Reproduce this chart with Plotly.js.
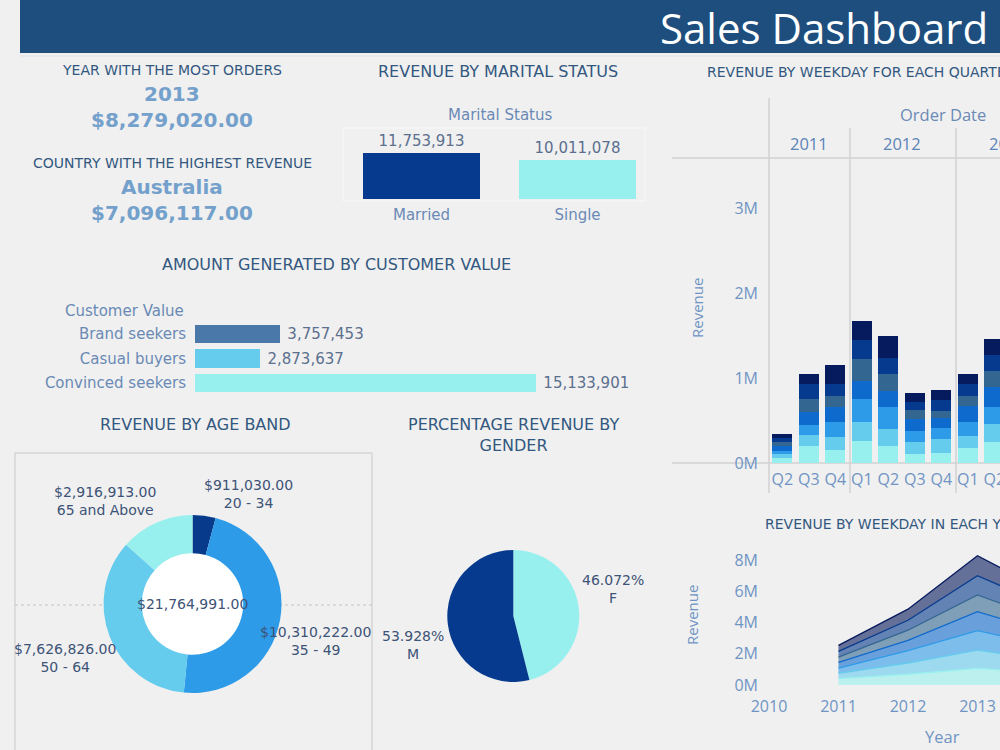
<!DOCTYPE html>
<html>
<head>
<meta charset="utf-8">
<script src="https://cdn.plot.ly/plotly-3.0.1.min.js"></script>
<style>
  html, body { margin: 0; padding: 0; background: #f0f0f0; overflow: hidden; }
  #chart { width: 1000px; height: 750px; }
</style>
</head>
<body>
<div id="chart"></div>
<script>
// ---------------- DATA ----------------
const dashboardTitle = "Sales Dashboard";
const topYear = "2013";
const topYearRevenue = 8279020;
const topCountry = "Australia";
const topCountryRevenue = 7096117;

const maritalStatus = ["Married", "Single"];
const maritalRevenue = [11753913, 10011078];

const customerValue = ["Brand seekers", "Casual buyers", "Convinced seekers"];
const customerRevenue = [3757453, 2873637, 15133901];

const ageBands = ["20 - 34", "35 - 49", "50 - 64", "65 and Above"];
const ageRevenue = [911030, 10310222, 7626826, 2916913];

const genders = ["F", "M"];
const genderShare = [46.072, 53.928];

// Quarterly revenue (millions) per weekday, stacked bottom -> top
const quarterKeys = ["2011 Q2", "2011 Q3", "2011 Q4", "2012 Q1", "2012 Q2", "2012 Q3", "2012 Q4", "2013 Q1", "2013 Q2"];
const quarterLabels = ["Q2", "Q3", "Q4", "Q1", "Q2", "Q3", "Q4", "Q1", "Q2"];
const orderYears = ["2011", "2012", "2013"];
const weekdays = ["Sunday", "Monday", "Tuesday", "Wednesday", "Thursday", "Friday", "Saturday"];
const qSunday    = [0.059, 0.196, 0.157, 0.263, 0.196, 0.110, 0.122, 0.173, 0.243];
const qMonday    = [0.047, 0.133, 0.153, 0.224, 0.204, 0.133, 0.157, 0.141, 0.220];
const qTuesday   = [0.039, 0.121, 0.176, 0.271, 0.255, 0.137, 0.137, 0.169, 0.192];
const qWednesday = [0.051, 0.153, 0.169, 0.208, 0.188, 0.137, 0.114, 0.184, 0.243];
const qThursday  = [0.051, 0.149, 0.129, 0.255, 0.208, 0.102, 0.086, 0.122, 0.188];
const qFriday    = [0.047, 0.176, 0.149, 0.224, 0.188, 0.102, 0.125, 0.141, 0.188];
const qSaturday  = [0.051, 0.121, 0.220, 0.224, 0.259, 0.106, 0.118, 0.122, 0.184];
const revenueTicksQ = [0, 1, 2, 3];

// Yearly revenue (millions) per weekday
const areaYears = [2011, 2012, 2013, 2014];
const ySunday    = [0.41, 0.69, 1.07, 0.77];
const yMonday    = [0.33, 0.72, 1.17, 0.84];
const yTuesday   = [0.34, 0.80, 1.24, 0.89];
const yWednesday = [0.37, 0.65, 1.22, 0.88];
const yThursday  = [0.33, 0.65, 1.07, 0.77];
const yFriday    = [0.37, 0.64, 1.24, 0.89];
const ySaturday  = [0.39, 0.71, 1.28, 0.92];
const yearTicks = [2010, 2011, 2012, 2013];
const revenueTicksY = [0, 2, 4, 6, 8];

// ---------------- STYLE ----------------
const FONT = "Open Sans, sans-serif";
const BODY = "DejaVu Sans, sans-serif";
const W = 1000, H = 750;
const px = x => x / W;
const py = y => 1 - y / H;
const titleCol = "#33587f";
const kpiCol = "#74a0cc";
const labCol = "#6a8ab5";
const valCol = "#5b6f8e";
const darkLab = "#3d5377";
const axCol = "#6f94c4";
const weekdayColors = ["#98f0ee", "#66ccee", "#2e9be8", "#0f6acd", "#336791", "#063a8e", "#061a5e"];
const hexToRgba = (h, a) => {
  const n = parseInt(h.slice(1), 16);
  return `rgba(${(n >> 16) & 255},${(n >> 8) & 255},${n & 255},${a})`;
};
const fmtInt = v => v.toLocaleString("en-US");
const fmtMoney = v => "$" + v.toLocaleString("en-US", {minimumFractionDigits: 2, maximumFractionDigits: 2});

// ---------------- TRACES ----------------
const traces = [];

traces.push({
  type: "bar", x: maritalStatus, y: maritalRevenue, xaxis: "x", yaxis: "y",
  marker: {color: ["#063a8e", "#98f0ee"]},
  text: maritalRevenue.map(fmtInt), textposition: "outside", cliponaxis: false,
  textfont: {family: BODY, size: 15, color: valCol}, hoverinfo: "x+y"
});

traces.push({
  type: "bar", orientation: "h", y: customerValue, x: customerRevenue, xaxis: "x2", yaxis: "y2",
  marker: {color: ["#4a78a8", "#66ccee", "#98f0ee"]},
  text: customerRevenue.map(v => "\u00a0" + fmtInt(v)), textposition: "outside", cliponaxis: false,
  textfont: {family: BODY, size: 15, color: valCol}, hoverinfo: "x+y"
});

const qSeries = [qSunday, qMonday, qTuesday, qWednesday, qThursday, qFriday, qSaturday];
qSeries.forEach((s, i) => {
  traces.push({
    type: "bar", x: quarterKeys, y: s, name: weekdays[i], xaxis: "x3", yaxis: "y3",
    marker: {color: weekdayColors[i], line: {width: 0}}
  });
});

const ySeries = [ySunday, yMonday, yTuesday, yWednesday, yThursday, yFriday, ySaturday];
ySeries.forEach((s, i) => {
  traces.push({
    type: "scatter", mode: "lines", x: areaYears, y: s, name: weekdays[i], xaxis: "x4", yaxis: "y4",
    stackgroup: "yr", line: {color: weekdayColors[i], width: 1.3},
    fillcolor: hexToRgba(weekdayColors[i], 0.6)
  });
});

traces.push({
  type: "pie", values: ageRevenue, labels: ageBands, sort: false, direction: "clockwise", rotation: 0,
  hole: 0.57, textinfo: "none",
  marker: {colors: ["#083a8c", "#2e9be8", "#66ccee", "#98f0ee"], line: {width: 0}},
  domain: {x: [px(103.5), px(281.5)], y: [py(693), py(515)]}
});

traces.push({
  type: "pie", values: genderShare, labels: genders, sort: false, direction: "clockwise", rotation: 0,
  textinfo: "none",
  marker: {colors: ["#98f0ee", "#063a8e"], line: {width: 0}},
  domain: {x: [px(447.3), px(579.3)], y: [py(682), py(550)]}
});

// ---------------- ANNOTATIONS ----------------
const ann = (text, x, y, o = {}) => Object.assign({
  text, x: px(x), y: py(y), xref: "paper", yref: "paper", showarrow: false,
  xanchor: "center", yanchor: "middle",
  font: {family: BODY, size: 14, color: titleCol}
}, o);

const annotations = [
  ann(dashboardTitle, 990, 28, {xanchor: "right", font: {family: FONT, size: 42, color: "#ffffff"}}),
  ann("YEAR WITH THE MOST ORDERS", 172, 70, {font: {family: BODY, size: 14, color: titleCol}}),
  ann("<b>" + topYear + "</b>", 172, 94, {font: {family: BODY, size: 20, color: kpiCol}}),
  ann("<b>" + fmtMoney(topYearRevenue) + "</b>", 172, 120, {font: {family: BODY, size: 20, color: kpiCol}}),
  ann("COUNTRY WITH THE HIGHEST REVENUE", 172, 163, {font: {family: BODY, size: 14, color: titleCol}}),
  ann("<b>" + topCountry + "</b>", 172, 187, {font: {family: BODY, size: 20, color: kpiCol}}),
  ann("<b>" + fmtMoney(topCountryRevenue) + "</b>", 172, 213, {font: {family: BODY, size: 20, color: kpiCol}}),

  ann("REVENUE BY MARITAL STATUS", 498, 72, {font: {family: BODY, size: 16, color: titleCol}}),
  ann("Marital Status", 500, 115, {font: {family: BODY, size: 15, color: labCol}}),

  ann("AMOUNT GENERATED BY CUSTOMER VALUE", 336, 264, {font: {family: BODY, size: 16, color: titleCol}}),
  ann("Customer Value", 186, 311, {xanchor: "right", font: {family: BODY, size: 15, color: labCol}}),

  ann("REVENUE BY AGE BAND", 195, 424, {font: {family: BODY, size: 16, color: titleCol}}),
  ann("PERCENTAGE REVENUE BY<br>GENDER", 513, 435, {font: {family: BODY, size: 16, color: titleCol}}),

  ann("REVENUE BY WEEKDAY FOR EACH QUARTER", 705, 72, {xanchor: "left", font: {family: BODY, size: 14, color: titleCol}}),
  ann("Order Date", 943, 114, {font: {family: FONT, size: 16.5, color: labCol}}),
  ann("Revenue", 697, 308, {textangle: -90, font: {family: FONT, size: 15, color: axCol}}),

  ann("REVENUE BY WEEKDAY IN EACH YEAR", 763, 524, {xanchor: "left", font: {family: BODY, size: 14, color: titleCol}}),
  ann("Revenue", 692, 615, {textangle: -90, font: {family: FONT, size: 15, color: axCol}}),
  ann("Year", 942, 736, {font: {family: FONT, size: 16.5, color: axCol}})
];

// year headers above the quarterly bars
const yearHeaderX = [809, 902, 1008];
orderYears.forEach((yr, i) => annotations.push(ann(yr, yearHeaderX[i], 143, {font: {family: FONT, size: 16.5, color: "#5b84b8"}})));

// donut labels
const ageLabelPos = [[248, 494], [315, 641], [65, 658], [105, 501]];
ageBands.forEach((b, i) => annotations.push(
  ann(fmtMoney(ageRevenue[i]) + "<br>" + b, ageLabelPos[i][0], ageLabelPos[i][1], {font: {family: BODY, size: 14, color: darkLab}})
));
const ageTotal = ageRevenue.reduce((a, b) => a + b, 0);
annotations.push(ann(fmtMoney(ageTotal), 192, 604, {font: {family: BODY, size: 14, color: darkLab}}));

// gender labels
const genderTotal = genderShare.reduce((a, b) => a + b, 0);
const genderLabelPos = [[613, 589], [413, 645]];
genders.forEach((g, i) => annotations.push(
  ann((genderShare[i] / genderTotal * 100).toFixed(3) + "%<br>" + g, genderLabelPos[i][0], genderLabelPos[i][1], {font: {family: BODY, size: 14, color: darkLab}})
));

// ---------------- SHAPES ----------------
const rectPx = (x0, y0, x1, y1, o) => Object.assign({type: "rect", xref: "paper", yref: "paper", x0: px(x0), x1: px(x1), y0: py(y1), y1: py(y0), layer: "below"}, o);
const linePx = (x0, y0, x1, y1, o) => Object.assign({type: "line", xref: "paper", yref: "paper", x0: px(x0), x1: px(x1), y0: py(y0), y1: py(y1), layer: "below"}, o);
const grid = {color: "#d2d2d2", width: 1.5};

const shapes = [
  rectPx(20, 0, 1000, 53, {fillcolor: "#1d4e7e", line: {width: 0}}),
  linePx(20, 56, 1000, 56, {line: {color: "#dbe3ec", width: 1}}),
  rectPx(343, 128, 645, 201, {line: {color: "#f8f8f8", width: 1}}),
  rectPx(15, 453, 372, 770, {line: {color: "#c9c9c9", width: 1}}),
  linePx(15, 605, 372, 605, {line: {color: "#c4c4c4", width: 1, dash: "dot"}}),
  {type: "circle", xref: "paper", yref: "paper", x0: px(141.5), x1: px(243.5), y0: py(655), y1: py(553), fillcolor: "#ffffff", line: {width: 0}, layer: "below"},
  linePx(769, 98, 769, 493, {line: grid}),
  linePx(850, 128, 850, 493, {line: grid}),
  linePx(956, 128, 956, 493, {line: grid}),
  linePx(672, 158, 1000, 158, {line: grid}),
  linePx(672, 463, 1000, 463, {line: grid})
];

// ---------------- LAYOUT ----------------
const tickF = (family, size, color) => ({family, size, color});
const layout = {
  width: W, height: H, margin: {l: 0, r: 0, t: 0, b: 0},
  paper_bgcolor: "#f0f0f0", plot_bgcolor: "rgba(0,0,0,0)",
  showlegend: false, barmode: "stack", bargap: 0.25,
  font: {family: BODY},
  xaxis: {domain: [px(343.5), px(655.5)], anchor: "y", type: "category", showgrid: false, zeroline: false, showline: false, ticks: "", tickfont: tickF(BODY, 15, labCol), ticklabelstandoff: 5},
  yaxis: {domain: [py(199), py(128)], anchor: "x", range: [0, 18.14e6], visible: false},
  xaxis2: {domain: [px(195), px(655)], anchor: "y2", range: [0, 20.44e6], visible: false},
  yaxis2: {domain: [py(395.25), py(321.75)], anchor: "x2", type: "category", autorange: "reversed", showgrid: false, zeroline: false, showline: false, ticks: "", tickfont: tickF(BODY, 15, labCol), ticklabelstandoff: 8},
  xaxis3: {domain: [px(769), 1], anchor: "y3", type: "category", categoryorder: "array", categoryarray: quarterKeys, range: [-0.5, 8.217],
           tickvals: quarterKeys, ticktext: quarterLabels, showgrid: false, zeroline: false, showline: false, ticks: "", tickfont: tickF(FONT, 16, axCol), ticklabelstandoff: 5},
  yaxis3: {domain: [py(463), py(158)], anchor: "x3", range: [0, 3.588], tickvals: revenueTicksQ, ticktext: revenueTicksQ.map(v => v + "M"),
           showgrid: false, zeroline: false, showline: false, ticks: "", tickfont: tickF(FONT, 16, axCol), ticklabelstandoff: 10},
  xaxis4: {domain: [px(769), 1], anchor: "y4", range: [2010, 2013.324], tickvals: yearTicks, ticktext: yearTicks.map(String),
           showgrid: false, zeroline: false, showline: false, ticks: "", tickfont: tickF(FONT, 16, axCol), ticklabelstandoff: 10},
  yaxis4: {domain: [py(685), py(548)], anchor: "x4", range: [0, 8.78], tickvals: revenueTicksY, ticktext: revenueTicksY.map(v => v + "M"),
           showgrid: false, zeroline: false, showline: false, ticks: "", tickfont: tickF(FONT, 16, axCol), ticklabelstandoff: 10},
  annotations, shapes
};

Plotly.newPlot("chart", traces, layout, {displayModeBar: false, staticPlot: true});
</script>
</body>
</html>
